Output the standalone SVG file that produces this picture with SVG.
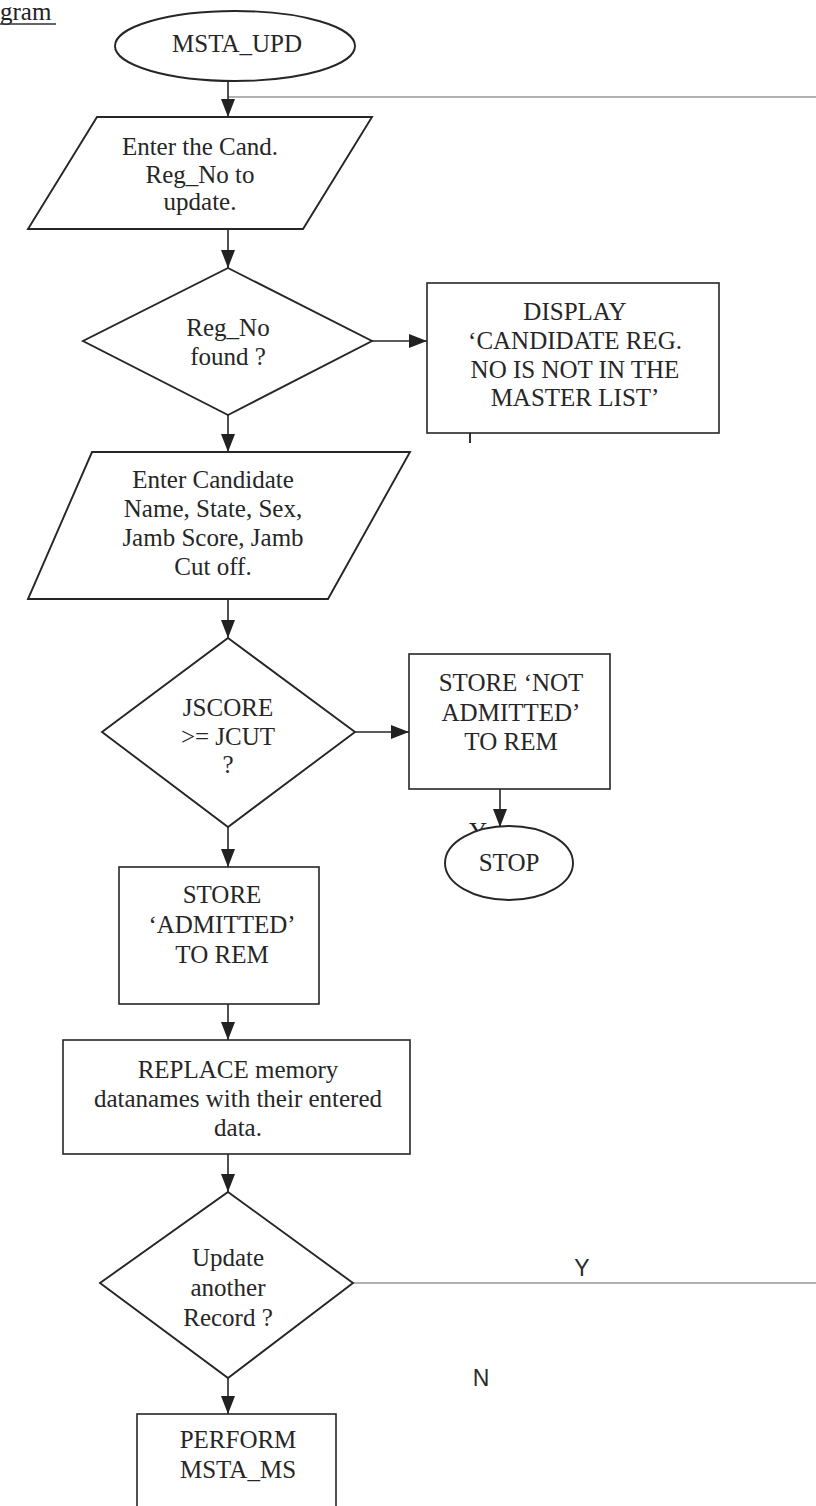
<svg xmlns="http://www.w3.org/2000/svg" width="816" height="1506" viewBox="0 0 816 1506">
  <style>
    .shape { fill: #fff; stroke: #262626; stroke-width: 1.9; }
    .box { fill: #fff; stroke: #262626; stroke-width: 1.6; }
    .lbl { font-family: "Liberation Serif", "Times New Roman", serif; font-size: 25px; fill: #262626; text-anchor: middle; }
    .yn { font-family: "Liberation Sans", Arial, sans-serif; font-size: 23px; fill: #2b2b2b; text-anchor: middle; }
    .flow { fill: none; stroke: #262626; stroke-width: 1.6; }
    .loop { fill: none; stroke: #666; stroke-width: 1.2; }
  </style>
  <defs>
    <marker id="arrow" viewBox="0 0 18 14" refX="18" refY="7" markerWidth="18" markerHeight="14" markerUnits="userSpaceOnUse" orient="auto">
      <path d="M0,0 L18,7 L0,14 z" fill="#222"/>
    </marker>
  </defs>
  <rect width="816" height="1506" fill="#fff"/>

  <!-- heading fragment -->
  <g id="heading">
    <text x="0" y="20" font-family="Liberation Serif, Times New Roman, serif" font-size="25" fill="#222">gram</text>
    <line x1="0" y1="24" x2="56" y2="24" stroke="#333" stroke-width="1.5"/>
  </g>

  <!-- connectors -->
  <g id="connectors">
    <line class="loop" x1="816" y1="97" x2="228" y2="97"/>
    <line class="flow" x1="228" y1="81" x2="228" y2="117" marker-end="url(#arrow)"/>
    <line class="flow" x1="228" y1="229" x2="228" y2="268" marker-end="url(#arrow)"/>
    <line class="flow" x1="372" y1="341" x2="427" y2="341" marker-end="url(#arrow)"/>
    <line class="flow" x1="228" y1="415" x2="228" y2="452" marker-end="url(#arrow)"/>
    <line class="flow" x1="228" y1="599" x2="228" y2="638" marker-end="url(#arrow)"/>
    <line class="flow" x1="355" y1="732" x2="409" y2="732" marker-end="url(#arrow)"/>
    <line class="flow" x1="500" y1="789" x2="500" y2="827" marker-end="url(#arrow)"/>
    <line class="flow" x1="228" y1="827" x2="228" y2="867" marker-end="url(#arrow)"/>
    <line class="flow" x1="228" y1="1004" x2="228" y2="1040" marker-end="url(#arrow)"/>
    <line class="flow" x1="228" y1="1154" x2="228" y2="1192" marker-end="url(#arrow)"/>
    <line class="flow" x1="228" y1="1378" x2="228" y2="1414" marker-end="url(#arrow)"/>
    <line class="loop" x1="353" y1="1283" x2="816" y2="1283"/>
    <line x1="470" y1="433" x2="470" y2="443" stroke="#333" stroke-width="2"/>
    <text class="yn" x="582" y="1276">Y</text>
    <text class="yn" x="481" y="1386">N</text>
    <text class="lbl" x="478" y="840" font-size="22">Y</text>
  </g>

  <g id="start">
    <ellipse class="shape" cx="235" cy="46" rx="120" ry="35"/>
    <text class="lbl" x="237" y="52">MSTA_UPD</text>
  </g>

  <g id="input-regno">
    <polygon class="shape" points="97,117 372,117 303,229 28,229"/>
    <text class="lbl" x="200" y="155">Enter the Cand.</text>
    <text class="lbl" x="200" y="183">Reg_No to</text>
    <text class="lbl" x="200" y="210">update.</text>
  </g>

  <g id="regno-found">
    <polygon class="shape" points="228,268 372,341 228,415 83,341"/>
    <text class="lbl" x="228" y="336">Reg_No</text>
    <text class="lbl" x="228" y="365">found ?</text>
  </g>

  <g id="display-not-found">
    <rect class="box" x="427" y="283" width="292" height="150"/>
    <text class="lbl" x="575" y="320">DISPLAY</text>
    <text class="lbl" x="575" y="349">‘CANDIDATE REG.</text>
    <text class="lbl" x="575" y="378">NO IS NOT IN THE</text>
    <text class="lbl" x="575" y="406">MASTER LIST’</text>
  </g>

  <g id="input-details">
    <polygon class="shape" points="92,452 410,452 328,599 28,599"/>
    <text class="lbl" x="213" y="488">Enter Candidate</text>
    <text class="lbl" x="213" y="517">Name, State, Sex,</text>
    <text class="lbl" x="213" y="546">Jamb Score, Jamb</text>
    <text class="lbl" x="213" y="575">Cut off.</text>
  </g>

  <g id="score-check">
    <polygon class="shape" points="228,638 355,732 228,827 102,732"/>
    <text class="lbl" x="228" y="716">JSCORE</text>
    <text class="lbl" x="228" y="745">&gt;= JCUT</text>
    <text class="lbl" x="228" y="773">?</text>
  </g>

  <g id="store-not-admitted">
    <rect class="box" x="409" y="654" width="201" height="135"/>
    <text class="lbl" x="511" y="691">STORE ‘NOT</text>
    <text class="lbl" x="511" y="721">ADMITTED’</text>
    <text class="lbl" x="511" y="750">TO REM</text>
  </g>

  <g id="stop">
    <ellipse class="shape" cx="509" cy="863" rx="64" ry="37"/>
    <text class="lbl" x="509" y="871">STOP</text>
  </g>

  <g id="store-admitted">
    <rect class="box" x="119" y="867" width="200" height="137"/>
    <text class="lbl" x="222" y="903">STORE</text>
    <text class="lbl" x="222" y="933">‘ADMITTED’</text>
    <text class="lbl" x="222" y="963">TO REM</text>
  </g>

  <g id="replace-data">
    <rect class="box" x="63" y="1040" width="347" height="114"/>
    <text class="lbl" x="238" y="1078">REPLACE memory</text>
    <text class="lbl" x="238" y="1107">datanames with their entered</text>
    <text class="lbl" x="238" y="1136">data.</text>
  </g>

  <g id="update-another">
    <polygon class="shape" points="228,1192 353,1283 228,1378 100,1283"/>
    <text class="lbl" x="228" y="1266">Update</text>
    <text class="lbl" x="228" y="1296">another</text>
    <text class="lbl" x="228" y="1326">Record ?</text>
  </g>

  <g id="perform-ms">
    <rect class="box" x="137" y="1414" width="199" height="100"/>
    <text class="lbl" x="238" y="1448">PERFORM</text>
    <text class="lbl" x="238" y="1478">MSTA_MS</text>
  </g>
</svg>
